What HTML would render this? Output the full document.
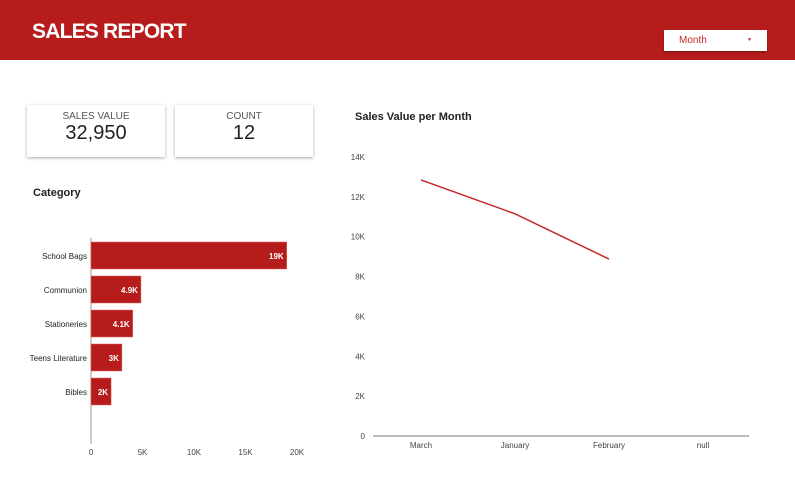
<!DOCTYPE html>
<html><head><meta charset="utf-8"><style>
body{margin:0;width:795px;height:492px;background:#fff;font-family:"Liberation Sans",sans-serif;overflow:hidden;position:relative}
.hdr{position:absolute;left:0;top:0;width:795px;height:60px;background:#b71c1c}
.title{position:absolute;left:32px;top:20px;color:#fff;font-weight:bold;font-size:21px;letter-spacing:-0.8px}
.dd{position:absolute;left:664px;top:30px;width:103px;height:21px;background:#fff;box-shadow:0 1px 2px rgba(0,0,0,.4);font-size:10px;color:#c62828}
.card{position:absolute;top:105px;width:138px;height:52px;background:#fff;box-shadow:0 1px 3px rgba(0,0,0,.35);text-align:center}
.card .l{font-size:10px;color:#555;margin-top:6px}
.card .v{font-size:20px;color:#222;margin-top:0px}
svg{position:absolute;left:0;top:0}
</style></head><body>
<div class="hdr"></div>
<div class="title">SALES REPORT</div>
<div class="dd"><span style="position:absolute;left:15px;top:5px">Month</span><span style="position:absolute;left:83px;top:7px;font-size:5px">▼</span></div>
<div class="card" style="left:27px"><div class="l">SALES VALUE</div><div class="v">32,950</div></div>
<div class="card" style="left:175px"><div class="l">COUNT</div><div class="v">12</div></div>
<svg id="s" width="795" height="492">
<text x="33" y="196" font-size="11" font-weight="bold" fill="#222">Category</text>
<text x="355" y="120" font-size="11" font-weight="bold" fill="#222">Sales Value per Month</text>
</svg>
<script>
const categories=["School Bags","Communion","Stationeries","Teens Literature","Bibles"];
const catValues=[19000,4850,4050,3000,1950];
const catLabels=["19K","4.9K","4.1K","3K","2K"];
const xTicks=[0,5000,10000,15000,20000];
const xTickLabels=["0","5K","10K","15K","20K"];
const months=["March","January","February","null"];
const monthValues=[12850,11150,8880,null];
const yTicks=[0,2000,4000,6000,8000,10000,12000,14000];
const yTickLabels=["0","2K","4K","6K","8K","10K","12K","14K"];
const s=document.getElementById('s');const NS="http://www.w3.org/2000/svg";
function mk(t,a,txt){const e=document.createElementNS(NS,t);for(const k in a)e.setAttribute(k,a[k]);if(txt!=null)e.textContent=txt;s.appendChild(e);return e;}
const bx=v=>91+v*206/20000;
const by=i=>242+i*34;
let e=mk('line',{x1:91,y1:238,x2:91,y2:444,stroke:'#999','stroke-width':1});


categories.forEach((c,i)=>{
 let r=mk('rect',{x:91,y:by(i),width:bx(catValues[i])-91,height:27,fill:'#b71c1c',stroke:'#d66','stroke-width':0.5});
 
 
 let t=mk('text',{x:87,y:by(i)+17,'font-size':8,'text-anchor':'end',fill:'#222'},c);
 
 
 let v=mk('text',{x:bx(catValues[i])-3,y:by(i)+17,'font-size':8,'font-weight':'bold','text-anchor':'end',fill:'#fff'},catLabels[i]);
 
 
});
xTicks.forEach((v,i)=>{
 let t=mk('text',{x:bx(v),y:455,'font-size':8,'text-anchor':'middle',fill:'#444'},xTickLabels[i]);
 
 
});
const ly=v=>436-v*279/14000;
const lx=i=>421+i*94;
yTicks.forEach((v,i)=>{
 let t=mk('text',{x:365,y:ly(v)+3,'font-size':8,'text-anchor':'end',fill:'#444'},yTickLabels[i]);
 
 
});
e=mk('line',{x1:373,y1:436,x2:749,y2:436,stroke:'#777','stroke-width':1});


months.forEach((m,i)=>{
 let t=mk('text',{x:lx(i),y:448,'font-size':8,'text-anchor':'middle',fill:'#444'},m);
 
 
});
const pts=monthValues.map((v,i)=>v==null?null:lx(i)+','+ly(v)).filter(p=>p);
e=mk('polyline',{points:pts.join(' '),fill:'none',stroke:'#c62828','stroke-width':1.5});


</script>
</body></html>
